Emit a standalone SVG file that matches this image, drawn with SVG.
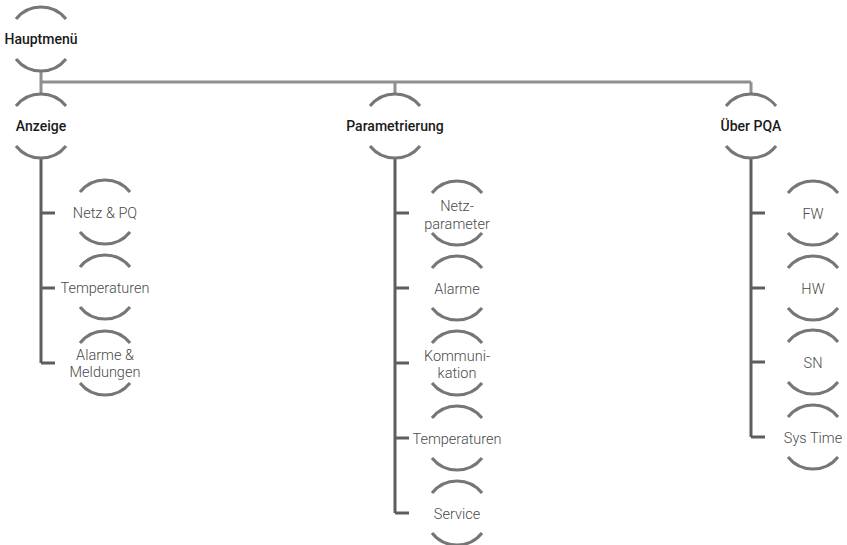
<svg xmlns="http://www.w3.org/2000/svg" width="847" height="545" viewBox="0 0 847 545">
  <style>
    .ring { fill: none; stroke: #767676; stroke-width: 3; }
    .trunk { fill: none; stroke: #8f8f8f; stroke-width: 3; }
    .branch { fill: none; stroke: #5e5e5e; stroke-width: 3; }
    .head { font-family: Roboto, "Liberation Sans", sans-serif; font-size: 14px; font-weight: 500; fill: #1a1a1a; text-anchor: middle; }
    .item { font-family: Roboto, "Liberation Sans", sans-serif; font-size: 14.5px; font-weight: 300; fill: #4a4a4a; text-anchor: middle; }
  </style>
  <defs>
    <!-- open circle: only the upper and lower arcs are stroked -->
    <path id="ring" class="ring" d="M-25,-20 A32,32 0 0 1 25,-20 M-25,20 A32,32 0 0 0 25,20"/>
  </defs>

  <rect width="847" height="545" fill="#ffffff"/>

  <g id="connectors">
    <path class="trunk" d="M41,70 V95 M41,82 H751 M395,82 V95 M751,82 V95"/>
    <path class="branch" d="M41,157 V363 M41,213 H55 M41,288 H55 M41,363 H55"/>
    <path class="branch" d="M395,157 V513 M395,213 H409 M395,288 H409 M395,363 H409 M395,438 H409 M395,513 H409"/>
    <path class="branch" d="M751,157 V437 M751,213 H765 M751,288 H765 M751,362 H765 M751,437 H765"/>
  </g>

  <g id="hauptmenue">
    <use href="#ring" x="41" y="39"/>
    <text class="head" x="41" y="44">Hauptmenü</text>
  </g>

  <g id="anzeige">
    <use href="#ring" x="41" y="126"/>
    <text class="head" x="41" y="131">Anzeige</text>
  </g>
  <g id="anzeige-netz">
    <use href="#ring" x="105" y="212"/>
    <text class="item" x="105" y="218">Netz &amp; PQ</text>
  </g>
  <g id="anzeige-temp">
    <use href="#ring" x="105" y="287"/>
    <text class="item" x="105" y="293">Temperaturen</text>
  </g>
  <g id="anzeige-alarme">
    <use href="#ring" x="105" y="363"/>
    <text class="item" x="105" y="360">Alarme &amp;</text>
    <text class="item" x="105" y="377">Meldungen</text>
  </g>

  <g id="parametrierung">
    <use href="#ring" x="395" y="126"/>
    <text class="head" x="395" y="131">Parametrierung</text>
  </g>
  <g id="param-netz">
    <use href="#ring" x="457" y="213"/>
    <text class="item" x="457" y="211">Netz-</text>
    <text class="item" x="457" y="229">parameter</text>
  </g>
  <g id="param-alarme">
    <use href="#ring" x="457" y="288"/>
    <text class="item" x="457" y="294">Alarme</text>
  </g>
  <g id="param-komm">
    <use href="#ring" x="457" y="363"/>
    <text class="item" x="457" y="361">Kommuni-</text>
    <text class="item" x="457" y="378">kation</text>
  </g>
  <g id="param-temp">
    <use href="#ring" x="457" y="438"/>
    <text class="item" x="457" y="444">Temperaturen</text>
  </g>
  <g id="param-service">
    <use href="#ring" x="457" y="513"/>
    <text class="item" x="457" y="519">Service</text>
  </g>

  <g id="ueber-pqa">
    <use href="#ring" x="751" y="126"/>
    <text class="head" x="751" y="131">Über PQA</text>
  </g>
  <g id="pqa-fw">
    <use href="#ring" x="813" y="213"/>
    <text class="item" x="813" y="219">FW</text>
  </g>
  <g id="pqa-hw">
    <use href="#ring" x="813" y="288"/>
    <text class="item" x="813" y="294">HW</text>
  </g>
  <g id="pqa-sn">
    <use href="#ring" x="813" y="362"/>
    <text class="item" x="813" y="368">SN</text>
  </g>
  <g id="pqa-systime">
    <use href="#ring" x="813" y="437"/>
    <text class="item" x="813" y="443">Sys Time</text>
  </g>
</svg>
